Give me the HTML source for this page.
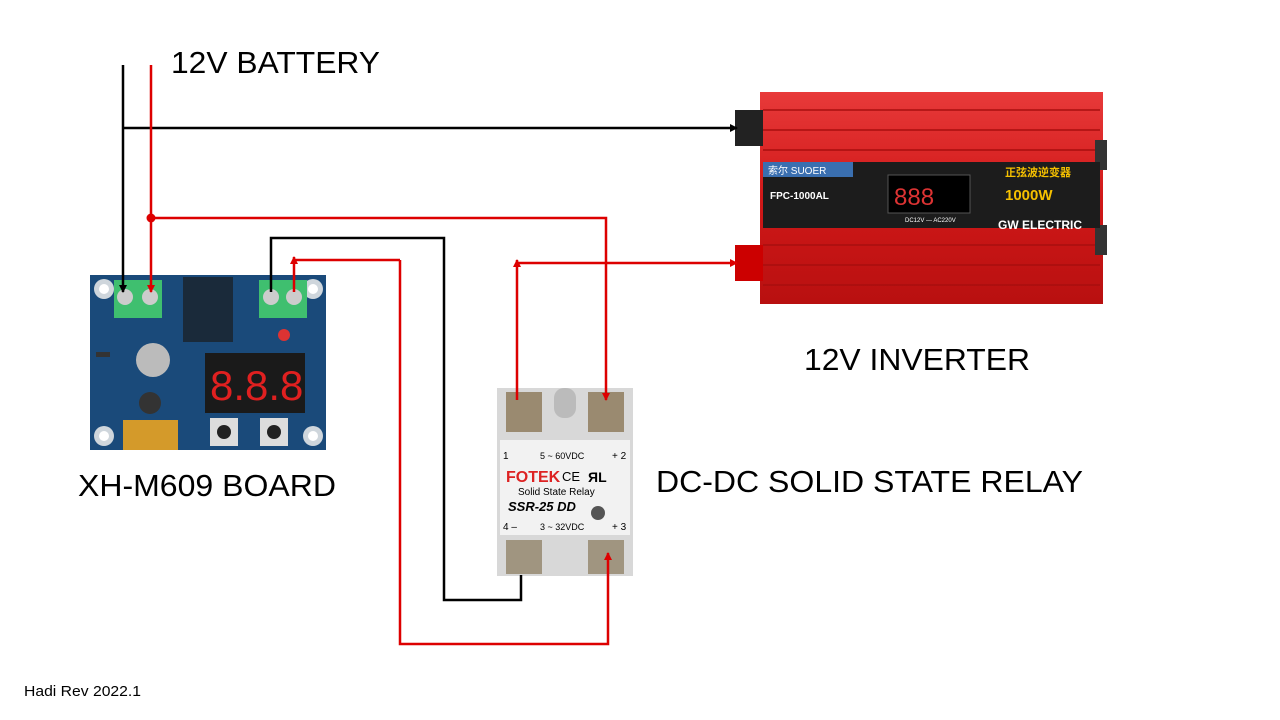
<!DOCTYPE html>
<html><head><meta charset="utf-8"><style>
html,body{margin:0;padding:0;background:#fff}
svg{display:block}
text{font-family:"Liberation Sans","Noto Sans CJK SC",sans-serif}
</style></head><body>
<svg width="1280" height="720" viewBox="0 0 1280 720" xmlns="http://www.w3.org/2000/svg">
<defs>
<marker id="ab" markerWidth="8" markerHeight="8" refX="7" refY="4" orient="auto" markerUnits="userSpaceOnUse"><path d="M0,0 L8,4 L0,8 Z" fill="#000"/></marker>
<marker id="ar" markerWidth="8" markerHeight="8" refX="7" refY="4" orient="auto" markerUnits="userSpaceOnUse"><path d="M0,0 L8,4 L0,8 Z" fill="#d00"/></marker>
<linearGradient id="inv" x1="0" y1="0" x2="0" y2="1"><stop offset="0" stop-color="#e83a3a"/><stop offset="0.5" stop-color="#d01818"/><stop offset="1" stop-color="#b81010"/></linearGradient>
</defs>

<!-- XH-M609 board -->
<rect x="90" y="275" width="236" height="175" fill="#1a4a7a"/>
<circle cx="104" cy="289" r="10" fill="#cfd6dc"/><circle cx="104" cy="289" r="5" fill="#fff"/>
<circle cx="313" cy="289" r="10" fill="#cfd6dc"/><circle cx="313" cy="289" r="5" fill="#fff"/>
<circle cx="104" cy="436" r="10" fill="#cfd6dc"/><circle cx="104" cy="436" r="5" fill="#fff"/>
<circle cx="313" cy="436" r="10" fill="#cfd6dc"/><circle cx="313" cy="436" r="5" fill="#fff"/>
<rect x="114" y="280" width="48" height="38" fill="#3fbf6f"/>
<circle cx="125" cy="297" r="8" fill="#ccc"/><circle cx="150" cy="297" r="8" fill="#ccc"/>
<rect x="259" y="280" width="48" height="38" fill="#3fbf6f"/>
<circle cx="271" cy="297" r="8" fill="#ccc"/><circle cx="294" cy="297" r="8" fill="#ccc"/>
<rect x="183" y="277" width="50" height="65" fill="#1a2a3a"/>
<rect x="205" y="353" width="100" height="60" fill="#1a1a1a"/>
<text x="210" y="400" font-size="42" fill="#e02020" font-family="Liberation Mono">8.8.8</text>
<circle cx="153" cy="360" r="17" fill="#bbb"/>
<circle cx="150" cy="403" r="11" fill="#333"/>
<rect x="123" y="420" width="55" height="30" fill="#d49a2a"/>
<rect x="210" y="418" width="28" height="28" fill="#ddd"/><circle cx="224" cy="432" r="7" fill="#222"/>
<rect x="260" y="418" width="28" height="28" fill="#ddd"/><circle cx="274" cy="432" r="7" fill="#222"/>
<circle cx="284" cy="335" r="6" fill="#d33"/>
<rect x="96" y="352" width="14" height="5" fill="#333"/>

<!-- Relay -->
<rect x="497" y="388" width="136" height="188" fill="#d8d8d8"/>
<rect x="500" y="440" width="130" height="95" fill="#f2f2f2"/>
<rect x="506" y="392" width="36" height="40" fill="#9a8a70"/>
<rect x="588" y="392" width="36" height="40" fill="#9a8a70"/>
<rect x="554" y="388" width="22" height="30" rx="10" fill="#bbb"/>
<rect x="506" y="540" width="36" height="34" fill="#a09580"/>
<rect x="588" y="540" width="36" height="34" fill="#a09580"/>
<text x="503" y="459" font-size="10">1</text><text x="540" y="459" font-size="9">5 ~ 60VDC</text><text x="612" y="459" font-size="10">+ 2</text>
<text x="506" y="482" font-size="16" font-weight="bold" fill="#d22">FOTEK</text><text x="562" y="481" font-size="13">CE</text><text x="588" y="482" font-size="14" font-weight="bold">ЯL</text>
<text x="518" y="495" font-size="10">Solid State Relay</text>
<text x="508" y="511" font-size="13" font-weight="bold" font-style="italic">SSR-25 DD</text>
<circle cx="598" cy="513" r="7" fill="#555"/>
<text x="503" y="530" font-size="10">4 –</text><text x="540" y="530" font-size="9">3 ~ 32VDC</text><text x="612" y="530" font-size="10">+ 3</text>

<!-- Inverter -->
<rect x="760" y="92" width="343" height="212" fill="url(#inv)"/>
<g stroke="#a80e0e" stroke-width="1.5">
<line x1="763" y1="110" x2="1100" y2="110"/><line x1="763" y1="130" x2="1100" y2="130"/><line x1="763" y1="150" x2="1100" y2="150"/>
<line x1="763" y1="245" x2="1100" y2="245"/><line x1="763" y1="265" x2="1100" y2="265"/><line x1="763" y1="285" x2="1100" y2="285"/>
</g>
<rect x="735" y="110" width="28" height="36" fill="#222"/>
<rect x="735" y="245" width="28" height="36" fill="#c00"/>
<rect x="1095" y="140" width="12" height="30" fill="#333"/>
<rect x="1095" y="225" width="12" height="30" fill="#333"/>
<rect x="763" y="162" width="337" height="66" fill="#1c1c1c"/>
<rect x="763" y="162" width="90" height="15" fill="#3a6fb0"/>
<text x="768" y="174" font-size="10" fill="#fff">索尔 SUOER</text>
<text x="770" y="199" font-size="10" fill="#fff" font-weight="bold">FPC-1000AL</text>
<rect x="888" y="175" width="82" height="38" fill="#000" stroke="#555"/>
<text x="894" y="205" font-size="24" fill="#d33" font-family="Liberation Mono">888</text>
<text x="1005" y="176" font-size="11" fill="#f5c000" font-weight="bold">正弦波逆变器</text>
<text x="1005" y="200" font-size="15" fill="#f5c000" font-weight="bold">1000W</text>
<text x="998" y="229" font-size="12" fill="#fff" font-weight="bold">GW ELECTRIC</text>
<text x="905" y="222" font-size="6" fill="#fff">DC12V — AC220V</text>

<!-- Wires -->
<g fill="none" stroke-width="2.5">
<path d="M123,65 V292" stroke="#000" marker-end="url(#ab)"/>
<path d="M123,128 H737" stroke="#000" marker-end="url(#ab)"/>
<path d="M151,65 V292" stroke="#d00" marker-end="url(#ar)"/>
<path d="M151,218 H606 V400" stroke="#d00" marker-end="url(#ar)"/>
<path d="M271,292 V238 H444 V600 H521 V575" stroke="#000"/>
<path d="M400,260 H294" stroke="#d00"/>
<path d="M294,292 V257" stroke="#d00" marker-end="url(#ar)"/>
<path d="M400,260 V644 H608 V553" stroke="#d00" marker-end="url(#ar)"/>
<path d="M517,400 V260" stroke="#d00" marker-end="url(#ar)"/>
<path d="M517,263 H737" stroke="#d00" marker-end="url(#ar)"/>
</g>
<circle cx="151" cy="218" r="4.5" fill="#d00"/>

<!-- Labels -->
<text x="171" y="73" font-size="31" textLength="209" lengthAdjust="spacingAndGlyphs">12V BATTERY</text>
<text x="804" y="370" font-size="31" textLength="226" lengthAdjust="spacingAndGlyphs">12V INVERTER</text>
<text x="78" y="496" font-size="31" textLength="258" lengthAdjust="spacingAndGlyphs">XH-M609 BOARD</text>
<text x="656" y="492" font-size="31" textLength="427" lengthAdjust="spacingAndGlyphs">DC-DC SOLID STATE RELAY</text>
<text x="24" y="696" font-size="15" textLength="117" lengthAdjust="spacingAndGlyphs">Hadi Rev 2022.1</text>
</svg>
</body></html>
